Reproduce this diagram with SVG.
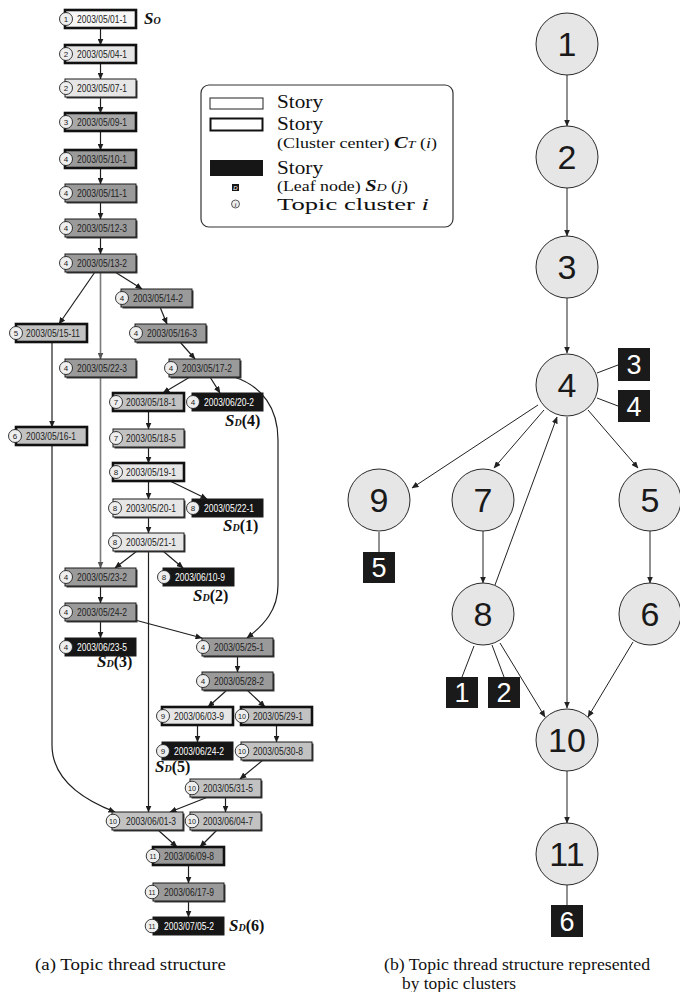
<svg xmlns="http://www.w3.org/2000/svg" width="680" height="992" viewBox="0 0 680 992">
<style>
  .bg{fill:#fff}
  .sh{fill:#3a3a3a}
  .box{stroke:#1a1a1a;stroke-width:1}
  .thick .box{stroke:#111;stroke-width:2.6}
  .fw{fill:#f7f7f7}
  .fl{fill:#e6e6e6}
  .fm{fill:#c2c2c2}
  .f3{fill:#a8a8a8}
  .fd{fill:#9a9a9a}
  .fb{fill:#161616}
  .cc{fill:#eeeeee;stroke:#222;stroke-width:0.9}
  .cn{font-family:"Liberation Sans",Arial,sans-serif;font-size:8px;fill:#222;text-anchor:middle}
  .dt{font-family:"Liberation Sans",Arial,sans-serif;font-size:10.5px;fill:#222}
  .blk .dt{fill:#fff}
  .ln{fill:none;stroke:#1e1e1e;stroke-width:1.2}
  .lg{fill:none;stroke:#7a7a7a;stroke-width:1.6}
  .sd{font-family:"Liberation Serif","Times New Roman",serif;fill:#111}
  .sdS{font-size:17px;font-weight:bold;font-style:italic}
  .sdD{font-size:10px;font-style:italic;font-weight:bold}
  .sdN{font-size:16px;font-weight:bold}
  .lgd{font-family:"Liberation Serif","Times New Roman",serif;fill:#111}
  .tc{fill:#e6e6e6;stroke:#2a2a2a;stroke-width:1}
  .tn{font-family:"Liberation Sans",Arial,sans-serif;font-size:34px;fill:#1a1a1a;text-anchor:middle}
  .lf{fill:#1a1a1a}
  .lfn{font-family:"Liberation Sans",Arial,sans-serif;font-size:27px;fill:#fff;text-anchor:middle}
  .el{fill:none;stroke:#222;stroke-width:1}
  .cap{font-family:"Liberation Serif","Times New Roman",serif;font-size:16px;fill:#111}
</style>
<defs>
  <marker id="ah" markerUnits="userSpaceOnUse" markerWidth="7" markerHeight="6" refX="6.5" refY="3" orient="auto">
    <path d="M0,0 L7,3 L0,6 z" fill="#1e1e1e"/>
  </marker>
  <marker id="ahg" markerUnits="userSpaceOnUse" markerWidth="7" markerHeight="6" refX="6.5" refY="3" orient="auto">
    <path d="M0,0 L7,3 L0,6 z" fill="#555"/>
  </marker>
  <marker id="ar" markerUnits="userSpaceOnUse" markerWidth="7" markerHeight="6" refX="6.5" refY="3" orient="auto">
    <path d="M0,0 L7,3 L0,6 z" fill="#222"/>
  </marker>
</defs>
<rect class="bg" width="680" height="992"/>

<!-- (a) thread connectors -->
<g id="thread-edges">
  <path class="ln" marker-end="url(#ah)" d="M100.5,28 V45"/>
  <path class="ln" marker-end="url(#ah)" d="M100.5,63 V79"/>
  <path class="ln" marker-end="url(#ah)" d="M100.5,97 V113"/>
  <path class="ln" marker-end="url(#ah)" d="M100.5,131 V150"/>
  <path class="ln" marker-end="url(#ah)" d="M100.5,168 V184"/>
  <path class="ln" marker-end="url(#ah)" d="M100.5,202 V219"/>
  <path class="ln" marker-end="url(#ah)" d="M100.5,237 V254"/>
  <path class="ln" marker-end="url(#ah)" d="M95,272 L59,324"/>
  <path class="lg" marker-end="url(#ahg)" d="M100.5,272 V359"/>
  <path class="ln" marker-end="url(#ah)" d="M115,272 L142,289"/>
  <path class="ln" marker-end="url(#ah)" d="M160,307 L167,324"/>
  <path class="ln" marker-end="url(#ah)" d="M180,342 L195,359"/>
  <path class="ln" marker-end="url(#ah)" d="M52,342 V427"/>
  <path class="ln" marker-end="url(#ah)" d="M190,377 L163,393"/>
  <path class="ln" marker-end="url(#ah)" d="M210,377 L220,393"/>
  <path class="ln" marker-end="url(#ah)" d="M234,377 C262,386 278,408 278,440 L278,585 C278,610 264,625 247,638"/>
  <path class="ln" marker-end="url(#ah)" d="M148.5,411 V429"/>
  <path class="ln" marker-end="url(#ah)" d="M148.5,447 V463"/>
  <path class="ln" marker-end="url(#ah)" d="M148.5,481 V499"/>
  <path class="ln" marker-end="url(#ah)" d="M170,481 L207,499"/>
  <path class="ln" marker-end="url(#ah)" d="M148.5,517 V533"/>
  <path class="ln" marker-end="url(#ah)" d="M137,551 L115,568"/>
  <path class="ln" marker-end="url(#ah)" d="M163,551 L183,568"/>
  <path class="ln" marker-end="url(#ah)" d="M148.5,551 V812"/>
  <path class="lg" marker-end="url(#ahg)" d="M100.5,377 V568"/>
  <path class="ln" marker-end="url(#ah)" d="M100.5,586 V603"/>
  <path class="ln" marker-end="url(#ah)" d="M100.5,621 V638"/>
  <path class="ln" marker-end="url(#ah)" d="M135,620 L202,638"/>
  <path class="ln" marker-end="url(#ah)" d="M237.5,656 V672"/>
  <path class="ln" marker-end="url(#ah)" d="M227,690 L208,707"/>
  <path class="ln" marker-end="url(#ah)" d="M247,690 L265,707"/>
  <path class="ln" marker-end="url(#ah)" d="M197.5,725 V742"/>
  <path class="ln" marker-end="url(#ah)" d="M276.5,725 V742"/>
  <path class="ln" marker-end="url(#ah)" d="M263,760 L240,779"/>
  <path class="ln" marker-end="url(#ah)" d="M208,797 L170,812"/>
  <path class="ln" marker-end="url(#ah)" d="M225.5,797 V812"/>
  <path class="ln" marker-end="url(#ah)" d="M52,445 L52,745 C52,780 84,800 115,812"/>
  <path class="ln" marker-end="url(#ah)" d="M158,830 L177,847"/>
  <path class="ln" marker-end="url(#ah)" d="M217,830 L200,847"/>
  <path class="ln" marker-end="url(#ah)" d="M188.5,865 V883"/>
  <path class="ln" marker-end="url(#ah)" d="M188.5,901 V917"/>
</g>

<!-- (a) story nodes -->
<g id="n1" class="node thick" transform="translate(65,10)"><rect class="box fw" width="71" height="18"/><circle class="cc" cx="1" cy="9" r="6.5"/><text class="cn" x="1" y="12">1</text><text class="dt" x="12" y="13" textLength="50" lengthAdjust="spacingAndGlyphs">2003/05/01-1</text></g>
<g id="n2" class="node thick" transform="translate(65,45)"><rect class="box fl" width="71" height="18"/><circle class="cc" cx="1" cy="9" r="6.5"/><text class="cn" x="1" y="12">2</text><text class="dt" x="12" y="13" textLength="50" lengthAdjust="spacingAndGlyphs">2003/05/04-1</text></g>
<g id="n3" class="node" transform="translate(65,79)"><rect class="sh" x="1.5" y="1.5" width="71" height="18"/><rect class="box fl" width="71" height="18"/><circle class="cc" cx="1" cy="9" r="6.5"/><text class="cn" x="1" y="12">2</text><text class="dt" x="12" y="13" textLength="50" lengthAdjust="spacingAndGlyphs">2003/05/07-1</text></g>
<g id="n4" class="node thick" transform="translate(65,113)"><rect class="box f3" width="71" height="18"/><circle class="cc" cx="1" cy="9" r="6.5"/><text class="cn" x="1" y="12">3</text><text class="dt" x="12" y="13" textLength="50" lengthAdjust="spacingAndGlyphs">2003/05/09-1</text></g>
<g id="n5" class="node thick" transform="translate(65,150)"><rect class="box fd" width="71" height="18"/><circle class="cc" cx="1" cy="9" r="6.5"/><text class="cn" x="1" y="12">4</text><text class="dt" x="12" y="13" textLength="50" lengthAdjust="spacingAndGlyphs">2003/05/10-1</text></g>
<g id="n6" class="node" transform="translate(65,184)"><rect class="sh" x="1.5" y="1.5" width="71" height="18"/><rect class="box fd" width="71" height="18"/><circle class="cc" cx="1" cy="9" r="6.5"/><text class="cn" x="1" y="12">4</text><text class="dt" x="12" y="13" textLength="50" lengthAdjust="spacingAndGlyphs">2003/05/11-1</text></g>
<g id="n7" class="node" transform="translate(65,219)"><rect class="sh" x="1.5" y="1.5" width="71" height="18"/><rect class="box fd" width="71" height="18"/><circle class="cc" cx="1" cy="9" r="6.5"/><text class="cn" x="1" y="12">4</text><text class="dt" x="12" y="13" textLength="50" lengthAdjust="spacingAndGlyphs">2003/05/12-3</text></g>
<g id="n8" class="node" transform="translate(65,254)"><rect class="sh" x="1.5" y="1.5" width="71" height="18"/><rect class="box fd" width="71" height="18"/><circle class="cc" cx="1" cy="9" r="6.5"/><text class="cn" x="1" y="12">4</text><text class="dt" x="12" y="13" textLength="50" lengthAdjust="spacingAndGlyphs">2003/05/13-2</text></g>
<g id="n9" class="node" transform="translate(121,289)"><rect class="sh" x="1.5" y="1.5" width="71" height="18"/><rect class="box fd" width="71" height="18"/><circle class="cc" cx="1" cy="9" r="6.5"/><text class="cn" x="1" y="12">4</text><text class="dt" x="12" y="13" textLength="50" lengthAdjust="spacingAndGlyphs">2003/05/14-2</text></g>
<g id="n10" class="node thick" transform="translate(16,324)"><rect class="box fm" width="71" height="18"/><circle class="cc" cx="0" cy="9" r="6.5"/><text class="cn" x="0" y="12">5</text><text class="dt" x="10" y="13" textLength="54" lengthAdjust="spacingAndGlyphs">2003/05/15-11</text></g>
<g id="n11" class="node" transform="translate(135,324)"><rect class="sh" x="1.5" y="1.5" width="71" height="18"/><rect class="box fd" width="71" height="18"/><circle class="cc" cx="1" cy="9" r="6.5"/><text class="cn" x="1" y="12">4</text><text class="dt" x="12" y="13" textLength="50" lengthAdjust="spacingAndGlyphs">2003/05/16-3</text></g>
<g id="n12" class="node" transform="translate(65,359)"><rect class="sh" x="1.5" y="1.5" width="71" height="18"/><rect class="box fd" width="71" height="18"/><circle class="cc" cx="1" cy="9" r="6.5"/><text class="cn" x="1" y="12">4</text><text class="dt" x="12" y="13" textLength="50" lengthAdjust="spacingAndGlyphs">2003/05/22-3</text></g>
<g id="n13" class="node" transform="translate(169,359)"><rect class="sh" x="1.5" y="1.5" width="71" height="18"/><rect class="box fd" width="71" height="18"/><circle class="cc" cx="2" cy="9" r="6.5"/><text class="cn" x="2" y="12">4</text><text class="dt" x="13" y="13" textLength="50" lengthAdjust="spacingAndGlyphs">2003/05/17-2</text></g>
<g id="n14" class="node thick" transform="translate(16,427)"><rect class="box fm" width="71" height="18"/><circle class="cc" cx="-1" cy="9" r="6.5"/><text class="cn" x="-1" y="12">6</text><text class="dt" x="10" y="13" textLength="50" lengthAdjust="spacingAndGlyphs">2003/05/16-1</text></g>
<g id="n15" class="node thick" transform="translate(113,393)"><rect class="box fm" width="71" height="18"/><circle class="cc" cx="3" cy="9" r="6.5"/><text class="cn" x="3" y="12">7</text><text class="dt" x="13" y="13" textLength="50" lengthAdjust="spacingAndGlyphs">2003/05/18-1</text></g>
<g id="n16" class="node blk" transform="translate(192,393)"><rect class="box fb" width="71" height="18"/><circle class="cc" cx="1" cy="9" r="6.5"/><text class="cn" x="1" y="12">4</text><text class="dt" x="12" y="13" textLength="50" lengthAdjust="spacingAndGlyphs">2003/06/20-2</text></g>
<g id="n17" class="node" transform="translate(113,429)"><rect class="sh" x="1.5" y="1.5" width="71" height="18"/><rect class="box fm" width="71" height="18"/><circle class="cc" cx="3" cy="9" r="6.5"/><text class="cn" x="3" y="12">7</text><text class="dt" x="13" y="13" textLength="50" lengthAdjust="spacingAndGlyphs">2003/05/18-5</text></g>
<g id="n18" class="node thick" transform="translate(113,463)"><rect class="box fl" width="71" height="18"/><circle class="cc" cx="3" cy="9" r="6.5"/><text class="cn" x="3" y="12">8</text><text class="dt" x="13" y="13" textLength="50" lengthAdjust="spacingAndGlyphs">2003/05/19-1</text></g>
<g id="n19" class="node" transform="translate(113,499)"><rect class="sh" x="1.5" y="1.5" width="71" height="18"/><rect class="box fl" width="71" height="18"/><circle class="cc" cx="2" cy="9" r="6.5"/><text class="cn" x="2" y="12">8</text><text class="dt" x="13" y="13" textLength="50" lengthAdjust="spacingAndGlyphs">2003/05/20-1</text></g>
<g id="n20" class="node blk" transform="translate(192,499)"><rect class="box fb" width="71" height="18"/><circle class="cc" cx="1" cy="9" r="6.5"/><text class="cn" x="1" y="12">8</text><text class="dt" x="12" y="13" textLength="50" lengthAdjust="spacingAndGlyphs">2003/05/22-1</text></g>
<g id="n21" class="node" transform="translate(113,533)"><rect class="sh" x="1.5" y="1.5" width="71" height="18"/><rect class="box fl" width="71" height="18"/><circle class="cc" cx="2" cy="9" r="6.5"/><text class="cn" x="2" y="12">8</text><text class="dt" x="13" y="13" textLength="50" lengthAdjust="spacingAndGlyphs">2003/05/21-1</text></g>
<g id="n22" class="node" transform="translate(65,568)"><rect class="sh" x="1.5" y="1.5" width="71" height="18"/><rect class="box fd" width="71" height="18"/><circle class="cc" cx="1" cy="9" r="6.5"/><text class="cn" x="1" y="12">4</text><text class="dt" x="12" y="13" textLength="50" lengthAdjust="spacingAndGlyphs">2003/05/23-2</text></g>
<g id="n23" class="node blk" transform="translate(163,568)"><rect class="box fb" width="71" height="18"/><circle class="cc" cx="1" cy="9" r="6.5"/><text class="cn" x="1" y="12">8</text><text class="dt" x="12" y="13" textLength="50" lengthAdjust="spacingAndGlyphs">2003/06/10-9</text></g>
<g id="n24" class="node" transform="translate(65,603)"><rect class="sh" x="1.5" y="1.5" width="71" height="18"/><rect class="box fd" width="71" height="18"/><circle class="cc" cx="1" cy="9" r="6.5"/><text class="cn" x="1" y="12">4</text><text class="dt" x="12" y="13" textLength="50" lengthAdjust="spacingAndGlyphs">2003/05/24-2</text></g>
<g id="n25" class="node blk" transform="translate(65,638)"><rect class="box fb" width="71" height="18"/><circle class="cc" cx="1" cy="9" r="6.5"/><text class="cn" x="1" y="12">4</text><text class="dt" x="12" y="13" textLength="50" lengthAdjust="spacingAndGlyphs">2003/06/23-5</text></g>
<g id="n26" class="node" transform="translate(202,638)"><rect class="sh" x="1.5" y="1.5" width="71" height="18"/><rect class="box fd" width="71" height="18"/><circle class="cc" cx="1" cy="9" r="6.5"/><text class="cn" x="1" y="12">4</text><text class="dt" x="12" y="13" textLength="50" lengthAdjust="spacingAndGlyphs">2003/05/25-1</text></g>
<g id="n27" class="node" transform="translate(202,672)"><rect class="sh" x="1.5" y="1.5" width="71" height="18"/><rect class="box fd" width="71" height="18"/><circle class="cc" cx="1" cy="9" r="6.5"/><text class="cn" x="1" y="12">4</text><text class="dt" x="12" y="13" textLength="50" lengthAdjust="spacingAndGlyphs">2003/05/28-2</text></g>
<g id="n28" class="node thick" transform="translate(162,707)"><rect class="box fl" width="71" height="18"/><circle class="cc" cx="1" cy="9" r="6.5"/><text class="cn" x="1" y="12">9</text><text class="dt" x="12" y="13" textLength="50" lengthAdjust="spacingAndGlyphs">2003/06/03-9</text></g>
<g id="n29" class="node thick" transform="translate(241,707)"><rect class="box fm" width="71" height="18"/><circle class="cc" cx="1" cy="9" r="6.8"/><text class="cn" x="1" y="12" textLength="8" lengthAdjust="spacingAndGlyphs">10</text><text class="dt" x="12" y="13" textLength="50" lengthAdjust="spacingAndGlyphs">2003/05/29-1</text></g>
<g id="n30" class="node blk" transform="translate(162,742)"><rect class="box fb" width="71" height="18"/><circle class="cc" cx="1" cy="9" r="6.5"/><text class="cn" x="1" y="12">9</text><text class="dt" x="12" y="13" textLength="50" lengthAdjust="spacingAndGlyphs">2003/06/24-2</text></g>
<g id="n31" class="node" transform="translate(241,742)"><rect class="sh" x="1.5" y="1.5" width="71" height="18"/><rect class="box fm" width="71" height="18"/><circle class="cc" cx="1" cy="9" r="6.8"/><text class="cn" x="1" y="12" textLength="8" lengthAdjust="spacingAndGlyphs">10</text><text class="dt" x="12" y="13" textLength="50" lengthAdjust="spacingAndGlyphs">2003/05/30-8</text></g>
<g id="n32" class="node" transform="translate(190,779)"><rect class="sh" x="1.5" y="1.5" width="71" height="18"/><rect class="box fm" width="71" height="18"/><circle class="cc" cx="2" cy="9" r="6.8"/><text class="cn" x="2" y="12" textLength="8" lengthAdjust="spacingAndGlyphs">10</text><text class="dt" x="13" y="13" textLength="50" lengthAdjust="spacingAndGlyphs">2003/05/31-5</text></g>
<g id="n33" class="node" transform="translate(112,812)"><rect class="sh" x="1.5" y="1.5" width="71" height="18"/><rect class="box fm" width="71" height="18"/><circle class="cc" cx="1" cy="9" r="6.8"/><text class="cn" x="1" y="12" textLength="8" lengthAdjust="spacingAndGlyphs">10</text><text class="dt" x="14" y="13" textLength="50" lengthAdjust="spacingAndGlyphs">2003/06/01-3</text></g>
<g id="n34" class="node" transform="translate(190,812)"><rect class="sh" x="1.5" y="1.5" width="71" height="18"/><rect class="box fm" width="71" height="18"/><circle class="cc" cx="2" cy="9" r="6.8"/><text class="cn" x="2" y="12" textLength="8" lengthAdjust="spacingAndGlyphs">10</text><text class="dt" x="13" y="13" textLength="50" lengthAdjust="spacingAndGlyphs">2003/06/04-7</text></g>
<g id="n35" class="node thick" transform="translate(153,847)"><rect class="box fd" width="71" height="18"/><circle class="cc" cx="0" cy="9" r="6.8"/><text class="cn" x="0" y="12" textLength="7" lengthAdjust="spacingAndGlyphs">11</text><text class="dt" x="11" y="13" textLength="50" lengthAdjust="spacingAndGlyphs">2003/06/09-8</text></g>
<g id="n36" class="node" transform="translate(153,883)"><rect class="sh" x="1.5" y="1.5" width="71" height="18"/><rect class="box fd" width="71" height="18"/><circle class="cc" cx="-1" cy="9" r="6.8"/><text class="cn" x="-1" y="12" textLength="7" lengthAdjust="spacingAndGlyphs">11</text><text class="dt" x="11" y="13" textLength="50" lengthAdjust="spacingAndGlyphs">2003/06/17-9</text></g>
<g id="n37" class="node blk" transform="translate(153,917)"><rect class="box fb" width="71" height="18"/><circle class="cc" cx="-1" cy="9" r="6.8"/><text class="cn" x="-1" y="12" textLength="7" lengthAdjust="spacingAndGlyphs">11</text><text class="dt" x="11" y="13" textLength="50" lengthAdjust="spacingAndGlyphs">2003/07/05-2</text></g>

<!-- start and leaf labels -->
<g id="leaf-labels" class="sd">
  <text x="144" y="24"><tspan class="sdS">S</tspan><tspan font-size="10" font-style="italic" font-weight="bold">O</tspan></text>
  <text x="225" y="426"><tspan class="sdS">S</tspan><tspan class="sdD">D</tspan><tspan class="sdN">(4)</tspan></text>
  <text x="223" y="531"><tspan class="sdS">S</tspan><tspan class="sdD">D</tspan><tspan class="sdN">(1)</tspan></text>
  <text x="193" y="601"><tspan class="sdS">S</tspan><tspan class="sdD">D</tspan><tspan class="sdN">(2)</tspan></text>
  <text x="97" y="667"><tspan class="sdS">S</tspan><tspan class="sdD">D</tspan><tspan class="sdN">(3)</tspan></text>
  <text x="155" y="772"><tspan class="sdS">S</tspan><tspan class="sdD">D</tspan><tspan class="sdN">(5)</tspan></text>
  <text x="229" y="931"><tspan class="sdS">S</tspan><tspan class="sdD">D</tspan><tspan class="sdN">(6)</tspan></text>
</g>

<!-- legend -->
<g id="legend">
  <rect x="201" y="85" width="252" height="142" rx="8" fill="#fff" stroke="#333" stroke-width="1.2"/>
  <rect x="210" y="98" width="53" height="11" fill="#fff" stroke="#222" stroke-width="1"/>
  <rect x="210.5" y="118.5" width="52" height="12" fill="#fff" stroke="#111" stroke-width="2"/>
  <rect x="210" y="160" width="53" height="16" fill="#161616"/>
  <rect x="232" y="184" width="7" height="7" fill="#161616"/>
  <text x="235.5" y="190" font-family="Liberation Sans,Arial,sans-serif" font-size="6" font-style="italic" fill="#fff" text-anchor="middle">D</text>
  <circle cx="235.5" cy="204" r="4" fill="#eee" stroke="#333" stroke-width="0.8"/>
  <text x="235.5" y="206.5" font-family="Liberation Serif,serif" font-size="7" font-style="italic" fill="#222" text-anchor="middle">i</text>
  <text class="lgd" x="277" y="108" font-size="18" textLength="46" lengthAdjust="spacingAndGlyphs">Story</text>
  <text class="lgd" x="277" y="130" font-size="18" textLength="46" lengthAdjust="spacingAndGlyphs">Story</text>
  <text class="lgd" x="277" y="148" font-size="14" textLength="160" lengthAdjust="spacingAndGlyphs">(Cluster center) <tspan font-weight="bold" font-style="italic" font-size="16">C</tspan><tspan font-style="italic" font-size="11">T</tspan> (<tspan font-style="italic">i</tspan>)</text>
  <text class="lgd" x="277" y="174" font-size="18" textLength="46" lengthAdjust="spacingAndGlyphs">Story</text>
  <text class="lgd" x="277" y="191" font-size="14" textLength="131" lengthAdjust="spacingAndGlyphs">(Leaf node) <tspan font-weight="bold" font-style="italic" font-size="16">S</tspan><tspan font-style="italic" font-size="11">D</tspan> (<tspan font-style="italic">j</tspan>)</text>
  <text class="lgd" x="277" y="210" font-size="17" textLength="152" lengthAdjust="spacingAndGlyphs">Topic cluster <tspan font-style="italic">i</tspan></text>
</g>

<!-- (b) cluster connectors -->
<g id="cluster-edges">
  <path class="el" marker-end="url(#ar)" d="M567,75 V126"/>
  <path class="el" marker-end="url(#ar)" d="M567,188 V236"/>
  <path class="el" marker-end="url(#ar)" d="M567,298 V353"/>
  <path class="el" marker-end="url(#ar)" d="M538,405 L412,488"/>
  <path class="el" marker-end="url(#ar)" d="M544,410 L494,468"/>
  <path class="el" marker-end="url(#ar)" d="M495,585 L557,417"/>
  <path class="el" marker-end="url(#ar)" d="M588,410 L638,468"/>
  <path class="el" marker-end="url(#ar)" d="M567,417 V708"/>
  <path class="el" marker-end="url(#ar)" d="M483,531 V583"/>
  <path class="el" marker-end="url(#ar)" d="M650,531 V583"/>
  <path class="el" marker-end="url(#ar)" d="M500,643 L545,717"/>
  <path class="el" marker-end="url(#ar)" d="M633,642 L588,717"/>
  <path class="el" marker-end="url(#ar)" d="M567,771 V823"/>
  <path class="el" d="M597,373 L618,365"/>
  <path class="el" d="M597,398 L618,406"/>
  <path class="el" d="M379,532 V552"/>
  <path class="el" d="M474,646 L462,677"/>
  <path class="el" d="M492,645 L504,677"/>
  <path class="el" d="M567,885 V905"/>
</g>

<!-- (b) topic clusters -->
<g id="t1"><circle class="tc" cx="567" cy="44" r="31"/><text class="tn" x="567" y="56">1</text></g>
<g id="t2"><circle class="tc" cx="567" cy="157" r="31"/><text class="tn" x="567" y="169">2</text></g>
<g id="t3"><circle class="tc" cx="567" cy="267" r="31"/><text class="tn" x="567" y="279">3</text></g>
<g id="t4"><circle class="tc" cx="567" cy="385" r="31"/><text class="tn" x="567" y="397">4</text></g>
<g id="t9"><circle class="tc" cx="379" cy="500" r="31"/><text class="tn" x="379" y="512">9</text></g>
<g id="t7"><circle class="tc" cx="483" cy="500" r="31"/><text class="tn" x="483" y="512">7</text></g>
<g id="t5"><circle class="tc" cx="650" cy="500" r="31"/><text class="tn" x="650" y="512">5</text></g>
<g id="t8"><circle class="tc" cx="483" cy="614" r="31"/><text class="tn" x="483" y="626">8</text></g>
<g id="t6"><circle class="tc" cx="650" cy="614" r="31"/><text class="tn" x="650" y="626">6</text></g>
<g id="t10"><circle class="tc" cx="567" cy="740" r="31"/><text class="tn" x="567" y="752">10</text></g>
<g id="t11"><circle class="tc" cx="567" cy="854" r="31"/><text class="tn" x="567" y="866">11</text></g>

<!-- (b) leaf nodes -->
<g id="d3"><rect class="lf" x="618" y="348" width="32" height="33"/><text class="lfn" x="634" y="374">3</text></g>
<g id="d4"><rect class="lf" x="618" y="390" width="32" height="32"/><text class="lfn" x="634" y="416">4</text></g>
<g id="d5"><rect class="lf" x="363" y="552" width="32" height="31"/><text class="lfn" x="379" y="577">5</text></g>
<g id="d1"><rect class="lf" x="446" y="677" width="32" height="31"/><text class="lfn" x="462" y="702">1</text></g>
<g id="d2"><rect class="lf" x="488" y="677" width="32" height="31"/><text class="lfn" x="504" y="702">2</text></g>
<g id="d6"><rect class="lf" x="551" y="905" width="32" height="32"/><text class="lfn" x="567" y="931">6</text></g>

<!-- captions -->
<text class="cap" x="35" y="970" textLength="191" lengthAdjust="spacingAndGlyphs">(a) Topic thread structure</text>
<text class="cap" x="384" y="970" textLength="266" lengthAdjust="spacingAndGlyphs">(b) Topic thread structure represented</text>
<text class="cap" x="402" y="989" textLength="114" lengthAdjust="spacingAndGlyphs">by topic clusters</text>
</svg>
